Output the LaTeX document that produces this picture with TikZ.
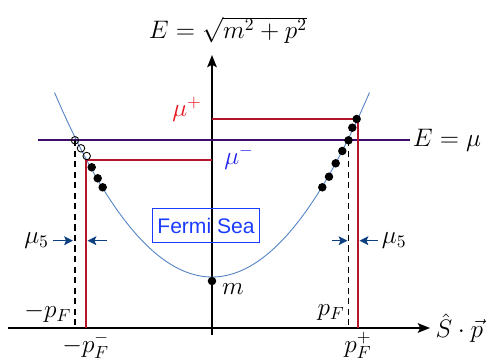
\documentclass[11pt,tikz,border=0pt]{standalone}
\usepackage{tikz}
\usepackage{xcolor}
\usepackage{fontspec}
\newfontfamily\seafont{Liberation Sans}
\usetikzlibrary{arrows.meta}
\definecolor{bandc}{HTML}{5282C4}
\definecolor{levelc}{HTML}{3D0C6B}
\definecolor{chiralc}{HTML}{B5152B}
\definecolor{muplusc}{HTML}{E8141E}
\definecolor{muminusc}{HTML}{2424EE}
\definecolor{seac}{HTML}{1A3CFF}
\definecolor{shiftc}{HTML}{0D3F80}
\tikzset{
  axis/.style={draw=black, line width=0.9pt, -{Stealth[length=7pt,width=5.5pt,inset=1.5pt]}},
  band/.style={draw=bandc, line width=0.5pt},
  level/.style={draw=levelc, line width=1.3pt},
  chiral/.style={draw=chiralc, line width=1.1pt},
  fermi/.style={draw=black, line width=0.8pt, dash pattern=on 3.5pt off 2.5pt},
  muarrow/.style={draw=shiftc, line width=0.9pt, -{Stealth[length=5pt,width=5pt,inset=1pt]}},
  full/.style={fill=black},
  hole/.style={draw=black, line width=0.5pt},
}

\begin{document}
\begin{tikzpicture}[font=\fontsize{14.4}{17}\selectfont]
\useasboundingbox (-4.24,-0.68) rectangle (5.56,6.56);
% axes
\coordinate (xl) at (-4.08,0);
\coordinate (xr) at (4.36,0);
\coordinate (yb) at (0,-0.14);
\coordinate (yt) at (0,5.46);
\draw[axis] (xl) -- (xr);
\draw[axis] (yb) -- (yt);
\node[anchor=west, inner sep=3pt] (xlab) at (xr) {$\hat{S}\cdot\vec{p}$};
\node[inner sep=1pt] (ylab) at (0.32,5.96) {$E=\sqrt{m^2+p^2}$};
% dispersion
\draw[band] plot[domain=-3.15:3.15, samples=80] (\x,{1.02+0.372*\x*\x});
% fermi level
\coordinate (lvl-l) at (-3.48,3.76);
\coordinate (lvl-r) at (3.96,3.76);
\draw[level] (lvl-l) -- (lvl-r);
\node[anchor=west, inner sep=1.5pt] (lvllab) at (lvl-r) {$E=\mu$};
% shifted levels
\coordinate (mup-a) at (0,4.18);
\coordinate (mup-b) at (2.92,4.18);
\coordinate (pfp) at (2.92,0);
\draw[chiral] (mup-a) -- (mup-b) -- (pfp);
\coordinate (mum-a) at (0,3.354);
\coordinate (mum-b) at (-2.526,3.354);
\coordinate (pfm) at (-2.526,0);
\draw[chiral] (mum-a) -- (mum-b) -- (pfm);
\node[text=muplusc] (muplab) at (-0.5,4.38) {$\mu^+$};
\node[text=muminusc] (mumlab) at (0.54,3.42) {$\mu^-$};
\node[below, inner sep=2pt] (pfplab) at (pfp) {$p_F^+$};
\node[below, inner sep=2pt] (pfmlab) at (pfm) {$-p_F^-$};
% fermi momenta
\coordinate (pf-l) at (-2.74,3.76);
\coordinate (pf-lb) at (-2.74,0);
\coordinate (pf-r) at (2.73,3.76);
\coordinate (pf-rb) at (2.73,0);
\draw[fermi] (pf-l) -- (pf-lb);
\draw[fermi] (pf-r) -- (pf-rb);
\node[anchor=east, inner sep=2pt] (pflab-l) at ([yshift=0.3cm]pf-lb) {$-p_F$};
\node[anchor=east, inner sep=2pt] (pflab-r) at ([yshift=0.3cm]pf-rb) {$p_F$};
% mu5 shifts
\coordinate (sh-la) at (-3.186,1.746);
\coordinate (sh-lb) at (-2.78,1.746);
\coordinate (sh-lc) at (-2.1,1.746);
\coordinate (sh-ld) at (-2.49,1.746);
\coordinate (sh-ra) at (2.394,1.746);
\coordinate (sh-rb) at (2.71,1.746);
\coordinate (sh-rc) at (3.32,1.746);
\coordinate (sh-rd) at (2.95,1.746);
\draw[muarrow] (sh-la) -- (sh-lb);
\draw[muarrow] (sh-lc) -- (sh-ld);
\draw[muarrow] (sh-ra) -- (sh-rb);
\draw[muarrow] (sh-rc) -- (sh-rd);
\node[left, inner sep=2pt] (m5lab-l) at (sh-la) {$\mu_5$};
\node[right, inner sep=2pt] (m5lab-r) at (sh-rc) {$\mu_5$};
% fermi sea
\node[draw=seac, text=seac, line width=0.6pt, font=\seafont\fontsize{12}{14}\selectfont, inner xsep=2.6pt, inner ysep=5.3pt] (sea) at (-0.12,2.05) {Fermi Sea};
% mass
\fill[full] (0,0.94) circle (0.085);
\node[anchor=west, inner sep=1pt] (mlab) at (0.16,0.78) {$m$};
% occupied states
\fill[full] (2.894,4.18) circle (0.085);
\fill[full] (2.806,4.006) circle (0.085);
\fill[full] (2.73,3.754) circle (0.085);
\fill[full] (2.606,3.54) circle (0.085);
\fill[full] (2.474,3.294) circle (0.085);
\fill[full] (2.34,3.026) circle (0.085);
\fill[full] (2.206,2.814) circle (0.085);
\fill[full] (-2.406,3.214) circle (0.085);
\fill[full] (-2.286,2.994) circle (0.085);
\fill[full] (-2.186,2.814) circle (0.085);
% empty states
\draw[hole] (-2.74,3.754) circle (0.075);
\draw[hole] (-2.62,3.594) circle (0.075);
\draw[hole] (-2.506,3.44) circle (0.075);
\end{tikzpicture}
\end{document}
